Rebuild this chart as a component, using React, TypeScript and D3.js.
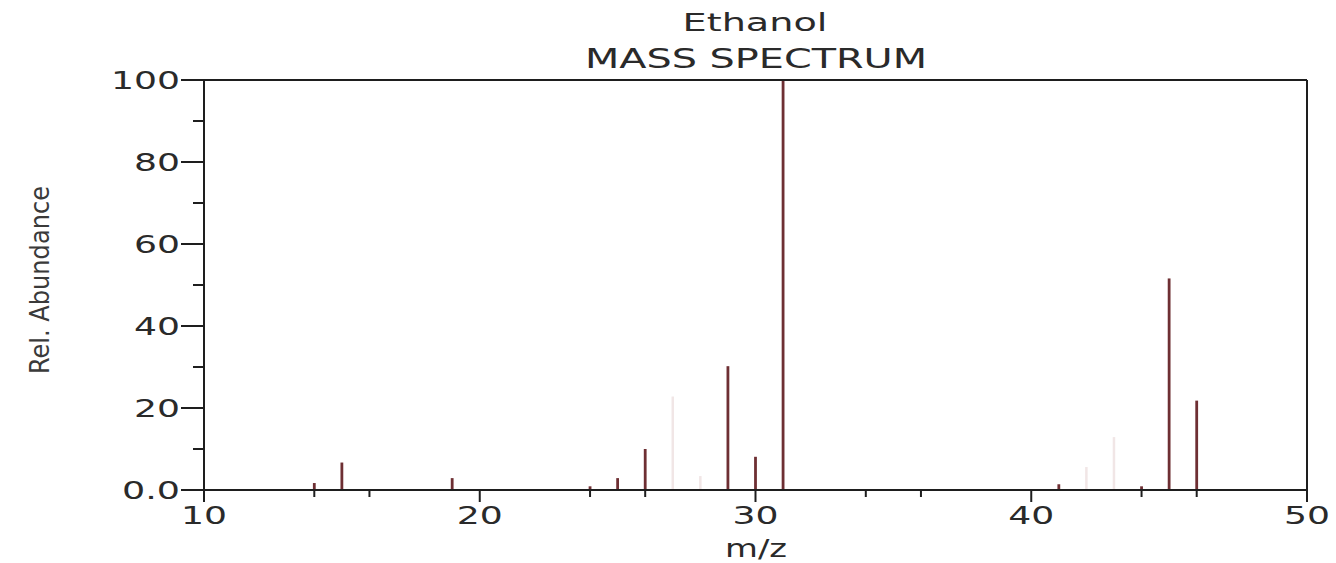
import React from "react";
import * as d3 from "d3";

const mzValues = [14, 15, 19, 24, 25, 26, 29, 30, 31, 41, 44, 45, 46];
const abundances = [1.7, 6.7, 2.9, 0.9, 2.9, 10.0, 30.2, 8.1, 100, 1.4, 0.9, 51.6, 21.8];
const faintMz = [27, 28, 42, 43];
const faintAbundances = [22.8, 3.4, 5.6, 12.9];
const xMajorTicks = [10, 20, 30, 40, 50];
const xMinorTicks = [14, 16, 24, 26, 34, 36, 44, 46];
const yMajorTicks = [0, 20, 40, 60, 80, 100];
const yMinorTicks = [10, 30, 50, 70, 90];
const yTickLabels = ["0.0", "20", "40", "60", "80", "100"];

const W = 1336;
const H = 563;
const left = 204;
const right = 1307;
const top = 80;
const bottom = 490;

export default function App() {
  const x = d3.scaleLinear().domain([10, 50]).range([left, right]);
  const y = d3.scaleLinear().domain([0, 100]).range([bottom, top]);
  const font = "'DejaVu Sans', Verdana, sans-serif";
  const axisColor = "#1e1e1e";
  const textColor = "#2a2a2a";
  const barColor = "#6e2f33";
  const faintColor = "#f1e6e6";

  const labelWidth = (s: string) =>
    s.split("").reduce((a, c) => a + (c === "." ? 12 : 23), 0);

  return (
    <svg
      width={W}
      height={H}
      style={{ position: "absolute", left: 0, top: 0, background: "#fff" }}
    >
      {/* Titles */}
      <text x={755} y={31} textAnchor="middle" fontFamily={font} fontSize={25}
        fill={textColor} textLength={145} lengthAdjust="spacingAndGlyphs">Ethanol</text>
      <text x={756} y={68} textAnchor="middle" fontFamily={font} fontSize={26}
        fill={textColor} textLength={342} lengthAdjust="spacingAndGlyphs">MASS SPECTRUM</text>

      {/* Y axis title */}
      <text transform="translate(49,280) rotate(-90)" textAnchor="middle"
        fontFamily="'Liberation Sans Narrow', 'DejaVu Sans Condensed', 'Liberation Sans', sans-serif"
        fontSize={27} fill="#3a3a3a" textLength={188} lengthAdjust="spacingAndGlyphs">Rel. Abundance</text>

      {/* faint peaks */}
      {faintMz.map((m, i) => (
        <line key={"f" + m} x1={x(m)} x2={x(m)} y1={y(0)} y2={y(faintAbundances[i])}
          stroke={faintColor} strokeWidth={2.5} />
      ))}

      {/* peaks */}
      {mzValues.map((m, i) => (
        <line key={"p" + m} x1={x(m)} x2={x(m)} y1={y(0)} y2={y(abundances[i])}
          stroke={barColor} strokeWidth={2.8} />
      ))}

      {/* frame */}
      <line x1={left} x2={right} y1={top} y2={top} stroke={axisColor} strokeWidth={2} />
      <line x1={right} x2={right} y1={top} y2={bottom} stroke={axisColor} strokeWidth={2} />
      <line x1={left} x2={left} y1={top} y2={bottom + 7} stroke={axisColor} strokeWidth={2} />
      <line x1={left} x2={right} y1={bottom} y2={bottom} stroke={axisColor} strokeWidth={2} />

      {/* Y ticks */}
      {yMajorTicks.map((t, i) => (
        <g key={"ym" + t}>
          <line x1={left - 23} x2={left} y1={y(t)} y2={y(t)} stroke={axisColor} strokeWidth={2} />
          <text x={180} y={y(t) + 9} textAnchor="end" fontFamily={font} fontSize={24}
            fill={textColor} textLength={labelWidth(yTickLabels[i])}
            lengthAdjust="spacingAndGlyphs">{yTickLabels[i]}</text>
        </g>
      ))}
      {yMinorTicks.map((t) => (
        <line key={"yn" + t} x1={left - 11} x2={left} y1={y(t)} y2={y(t)}
          stroke={axisColor} strokeWidth={2} />
      ))}

      {/* X ticks */}
      {xMajorTicks.map((t) => (
        <g key={"xm" + t}>
          <line x1={x(t)} x2={x(t)} y1={bottom} y2={bottom + 12} stroke={axisColor} strokeWidth={2} />
          <text x={x(t)} y={524} textAnchor="middle" fontFamily={font} fontSize={24}
            fill={textColor} textLength={labelWidth(String(t))}
            lengthAdjust="spacingAndGlyphs">{t}</text>
        </g>
      ))}
      {xMinorTicks.map((t) => (
        <line key={"xn" + t} x1={x(t)} x2={x(t)} y1={bottom} y2={bottom + 7}
          stroke={axisColor} strokeWidth={2} />
      ))}

      {/* X axis title */}
      <text x={756} y={557} textAnchor="middle" fontFamily={font} fontSize={24}
        fill={textColor} textLength={62} lengthAdjust="spacingAndGlyphs">m/z</text>
    </svg>
  );
}
